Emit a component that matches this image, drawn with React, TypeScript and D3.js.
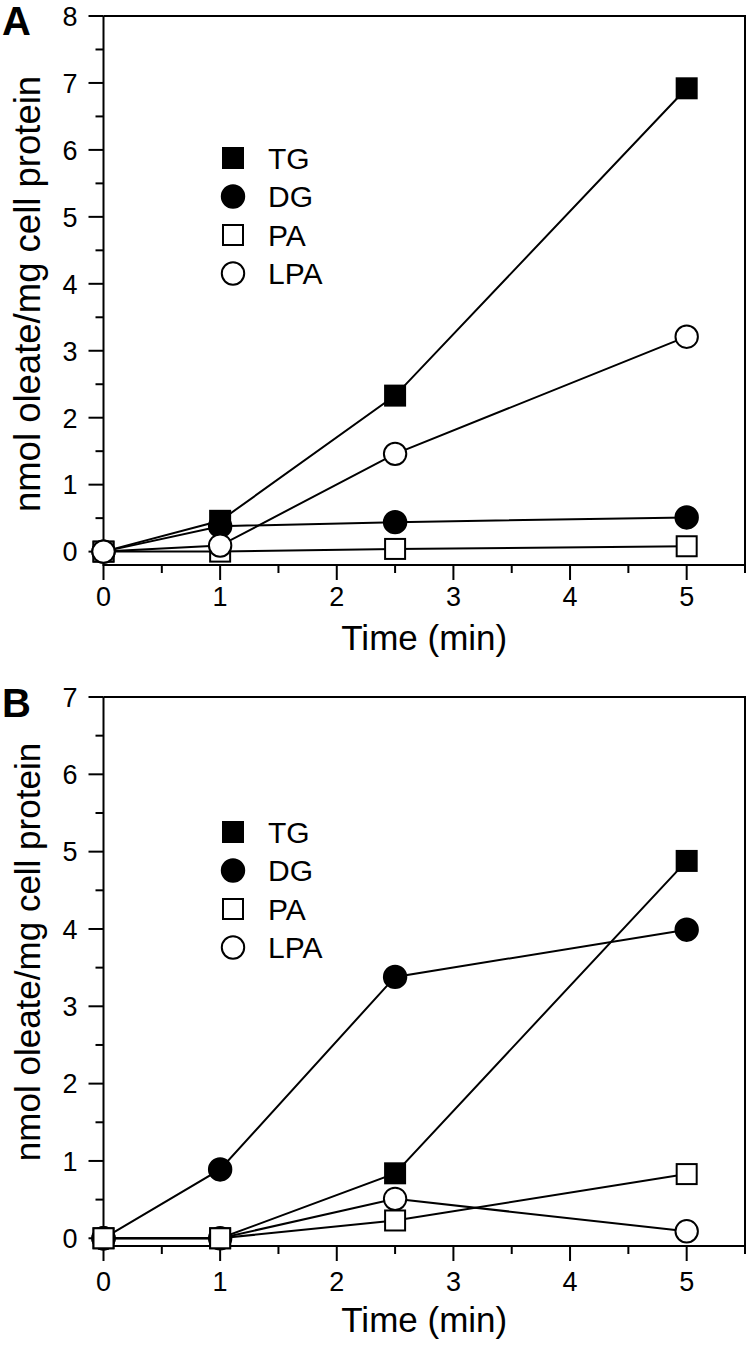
import React from "react";
import * as d3 from "d3";

const times = [0, 1, 2.5, 5];
const seriesNames = ["TG", "DG", "PA", "LPA"];

const aTG = [0, 0.46, 2.33, 6.92];
const aDG = [0, 0.38, 0.44, 0.51];
const aPA = [0, 0, 0.04, 0.08];
const aLPA = [0, 0.09, 1.46, 3.21];

const bTG = [0, 0, 0.84, 4.88];
const bDG = [0, 0.89, 3.38, 3.99];
const bPA = [0, 0, 0.23, 0.83];
const bLPA = [0, 0, 0.51, 0.09];

const xMajor = [0, 1, 2, 3, 4, 5];
const xMinor = [0.5, 1.5, 2.5, 3.5, 4.5, 5.5];
const yMajorA = [0, 1, 2, 3, 4, 5, 6, 7, 8];
const yMinorA = [0.5, 1.5, 2.5, 3.5, 4.5, 5.5, 6.5, 7.5];
const yMajorB = [0, 1, 2, 3, 4, 5, 6, 7];
const yMinorB = [0.5, 1.5, 2.5, 3.5, 4.5, 5.5, 6.5];

const xTitle = "Time (min)";
const yTitle = "nmol oleate/mg cell protein";

const FONT = "'Liberation Sans', Arial, Helvetica, sans-serif";

type Series = { name: string; values: number[] };

const markerStyle: Record<string, { shape: string; fill: string }> = {
  TG: { shape: "square", fill: "#000" },
  DG: { shape: "circle", fill: "#000" },
  PA: { shape: "square", fill: "#fff" },
  LPA: { shape: "circle", fill: "#fff" },
};

function Marker({ name, x, y }: { name: string; x: number; y: number }) {
  const m = markerStyle[name];
  if (m.shape === "square") {
    return <rect x={x - 10} y={y - 10} width={20} height={20} fill={m.fill} stroke="#000" strokeWidth={2} />;
  }
  return <circle cx={x} cy={y} r={11.2} fill={m.fill} stroke="#000" strokeWidth={2} />;
}

function Panel(props: {
  letter: string;
  top: number;
  bottom: number;
  yDomain: [number, number];
  yMajor: number[];
  yMinor: number[];
  series: Series[];
  markerOrder: string[];
  legendY: number;
  xTickBaseline: number;
  xTitleBaseline: number;
  yTitleCenter: number;
  yTitleSize: number;
  letterBaseline: number;
}) {
  const left = 103.5;
  const right = 745;
  const x = d3.scaleLinear().domain([0, 5.5]).range([left, right]);
  const y = d3.scaleLinear().domain(props.yDomain).range([props.bottom, props.top]);
  const line = d3
    .line<number>()
    .x((_, i) => x(times[i]))
    .y((d) => y(d));
  const byName: Record<string, Series> = {};
  props.series.forEach((s) => (byName[s.name] = s));

  return (
    <g>
      <text x={2} y={props.letterBaseline} fontFamily={FONT} fontWeight="bold" fontSize={40}>
        {props.letter}
      </text>
      {/* frame */}
      <line x1={left} x2={left} y1={props.top} y2={props.bottom} stroke="#000" strokeWidth={2} />
      <line x1={left - 1} x2={right + 1} y1={props.bottom} y2={props.bottom} stroke="#000" strokeWidth={2} />
      <line x1={left} x2={right + 1} y1={props.top} y2={props.top} stroke="#000" strokeWidth={2} />
      <line x1={right} x2={right} y1={props.top} y2={props.bottom} stroke="#000" strokeWidth={2} />
      {/* y ticks */}
      {props.yMajor.map((v) => (
        <g key={"ym" + v}>
          <line x1={left - 15} x2={left} y1={y(v)} y2={y(v)} stroke="#000" strokeWidth={2} />
          <text x={left - 26} y={y(v) + 9.8} textAnchor="end" fontFamily={FONT} fontSize={27}>
            {v}
          </text>
        </g>
      ))}
      {props.yMinor.map((v) => (
        <line key={"yn" + v} x1={left - 8} x2={left} y1={y(v)} y2={y(v)} stroke="#000" strokeWidth={2} />
      ))}
      {/* x ticks */}
      {xMajor.map((v) => (
        <g key={"xm" + v}>
          <line x1={x(v)} x2={x(v)} y1={props.bottom} y2={props.bottom + 15} stroke="#000" strokeWidth={2} />
          <text x={x(v)} y={props.xTickBaseline} textAnchor="middle" fontFamily={FONT} fontSize={27}>
            {v}
          </text>
        </g>
      ))}
      {xMinor.map((v) => (
        <line key={"xn" + v} x1={x(v)} x2={x(v)} y1={props.bottom} y2={props.bottom + 8} stroke="#000" strokeWidth={2} />
      ))}
      {/* titles */}
      <text x={(left + right) / 2} y={props.xTitleBaseline} textAnchor="middle" fontFamily={FONT} fontSize={35}>
        {xTitle}
      </text>
      <text
        transform={`translate(40,${props.yTitleCenter}) rotate(-90)`}
        textAnchor="middle"
        fontFamily={FONT}
        fontSize={props.yTitleSize}
      >
        {yTitle}
      </text>
      {/* lines */}
      {props.series.map((s) => (
        <path key={"l" + s.name} d={line(s.values) || ""} fill="none" stroke="#000" strokeWidth={2} />
      ))}
      {/* markers */}
      {props.markerOrder.map((n) =>
        byName[n].values.map((v, i) => <Marker key={n + i} name={n} x={x(times[i])} y={y(v)} />)
      )}
      {/* legend */}
      {seriesNames.map((n, i) => {
        const cy = props.legendY + i * 38.5;
        return (
          <g key={"lg" + n}>
            <Marker name={n} x={233} y={cy} />
            <text x={268} y={cy + 10.8} fontFamily={FONT} fontSize={30}>
              {n}
            </text>
          </g>
        );
      })}
    </g>
  );
}

export default function App() {
  const seriesA: Series[] = [
    { name: "TG", values: aTG },
    { name: "DG", values: aDG },
    { name: "PA", values: aPA },
    { name: "LPA", values: aLPA },
  ];
  const seriesB: Series[] = [
    { name: "TG", values: bTG },
    { name: "DG", values: bDG },
    { name: "PA", values: bPA },
    { name: "LPA", values: bLPA },
  ];
  return (
    <svg width={749} height={1345} style={{ position: "absolute", left: 0, top: 0, background: "#fff" }}>
      <rect x={0} y={0} width={749} height={1345} fill="#fff" />
      <Panel
        letter="A"
        top={16}
        bottom={565}
        yDomain={[-0.2, 8]}
        yMajor={yMajorA}
        yMinor={yMinorA}
        series={seriesA}
        markerOrder={["TG", "DG", "PA", "LPA"]}
        legendY={158}
        xTickBaseline={606}
        xTitleBaseline={650}
        yTitleCenter={294}
        yTitleSize={36.5}
        letterBaseline={35}
      />
      <Panel
        letter="B"
        top={697}
        bottom={1246}
        yDomain={[-0.1, 7]}
        yMajor={yMajorB}
        yMinor={yMinorB}
        series={seriesB}
        markerOrder={["TG", "DG", "LPA", "PA"]}
        legendY={832}
        xTickBaseline={1291}
        xTitleBaseline={1332}
        yTitleCenter={952}
        yTitleSize={35}
        letterBaseline={717}
      />
    </svg>
  );
}
